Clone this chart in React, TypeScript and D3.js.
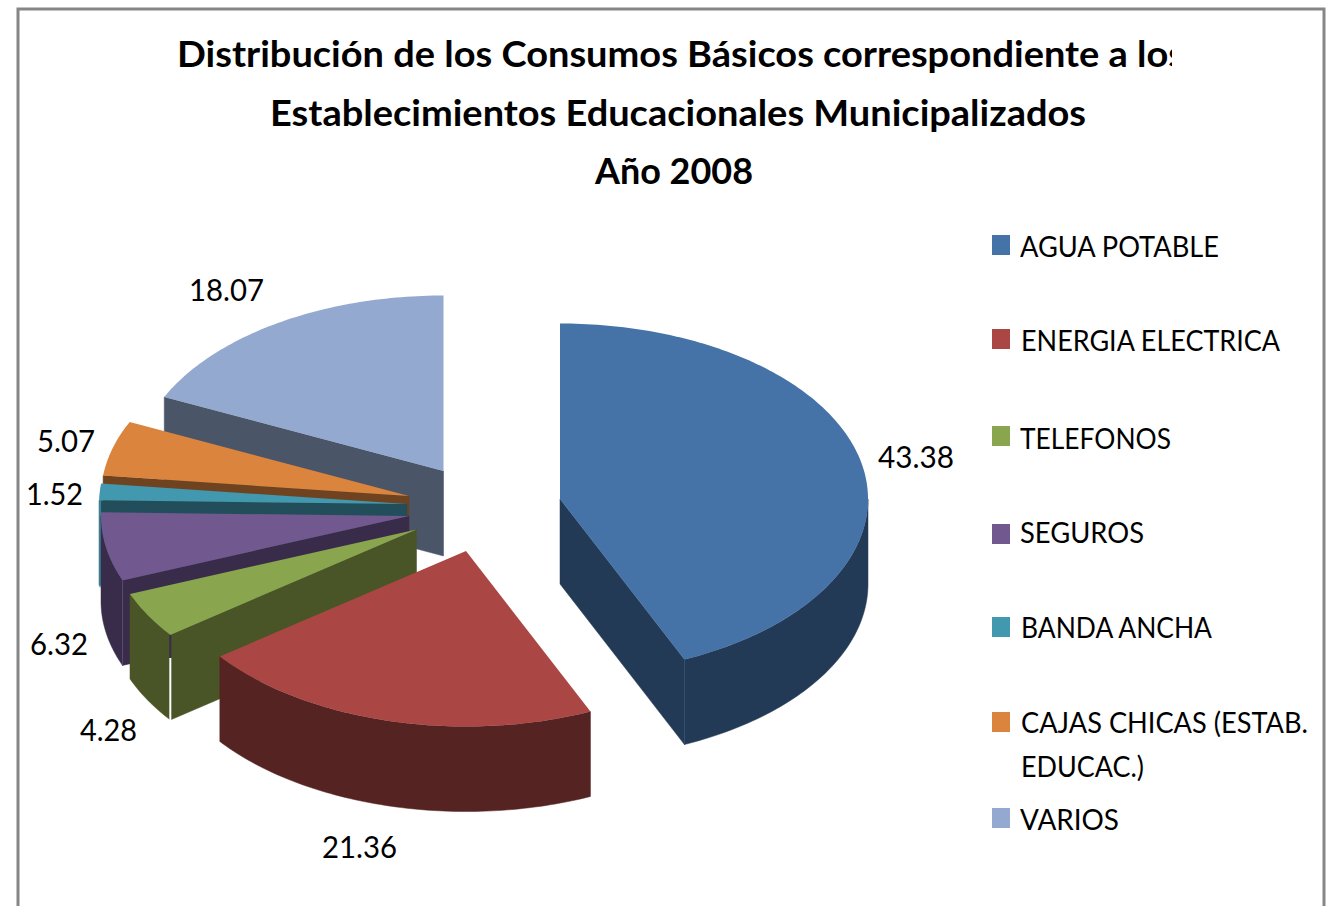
import React from "react";
import * as d3 from "d3";

const categories = ["AGUA POTABLE", "ENERGIA ELECTRICA", "TELEFONOS", "SEGUROS", "BANDA ANCHA", "CAJAS CHICAS (ESTAB. EDUCAC.)", "VARIOS"];
const values = [43.38, 21.36, 4.28, 6.32, 1.52, 5.07, 18.07];
const topColors = ["#4572A7", "#AA4643", "#89A54E", "#71588F", "#4198AF", "#DB843D", "#93A9CF"];
const wallColors = ["#233A56", "#552321", "#4A5527", "#392C4A", "#214E5A", "#6F431F", "#4B5568"];
const titleLines = [
  "Distribución de los Consumos Básicos correspondiente a los",
  "Establecimientos Educacionales Municipalizados",
  "Año 2008",
];

// layout
const W = 1333, H = 906;
const RX = 308, RY = 175.5, DEPTH = 85;
const apexes: [number, number][] = [[560, 499], [466, 551], [416.5, 529.5], [409, 516], [407, 504], [409, 496], [443.5, 471]];
const labelPos: [number, number, number][] = [[878, 468, 76], [322, 858, 75], [80, 741, 57], [30, 655, 58], [26, 505, 57], [37, 452, 58], [189, 301, 75]];
const legendRows = [
  { sw: 235, lines: [["AGUA POTABLE", 1020, 257, 199]] },
  { sw: 329, lines: [["ENERGIA ELECTRICA", 1021, 351, 259]] },
  { sw: 426, lines: [["TELEFONOS", 1020, 449, 151]] },
  { sw: 524, lines: [["SEGUROS", 1020, 543, 124]] },
  { sw: 617, lines: [["BANDA ANCHA", 1021, 638, 191]] },
  { sw: 712, lines: [["CAJAS CHICAS (ESTAB.", 1021, 733, 287], ["EDUCAC.)", 1021, 777, 123]] },
  { sw: 808, lines: [["VARIOS", 1020, 830, 99]] },
];
const FONT = "Lato, 'Open Sans', sans-serif";

const sx = d3.scaleLinear().domain([-1, 1]).range([-RX, RX]);
const sy = d3.scaleLinear().domain([-1, 1]).range([-RY, RY]);
const project = (a: number, ax: number, ay: number, dz = 0): [number, number] => [
  ax + sx(Math.sin(a)),
  ay - sy(Math.cos(a)) + dz,
];
const lineGen = d3.line<[number, number]>();

const arcs = d3.pie<number>().sort(null).startAngle(0).endAngle(2 * Math.PI)(values);
const order = [6, 5, 4, 3, 2, 1, 0];

function arcPoints(a0: number, a1: number, ax: number, ay: number, dz = 0) {
  const n = Math.max(2, Math.ceil(((a1 - a0) * 180) / Math.PI));
  return d3.range(n + 1).map((i) => project(a0 + ((a1 - a0) * i) / n, ax, ay, dz));
}

function Slice({ i }: { i: number }) {
  const { startAngle: a0, endAngle: a1 } = arcs[i];
  const [ax, ay] = apexes[i];
  const top = lineGen([[ax, ay], ...arcPoints(a0, a1, ax, ay)]) + "Z";
  const faces: string[] = [];
  const face = (a: number) => {
    const p = project(a, ax, ay);
    return lineGen([[ax, ay], p, [p[0], p[1] + DEPTH], [ax, ay + DEPTH]]) + "Z";
  };
  if (Math.sin(a1) > 0.01) faces.push(face(a1));
  if (Math.sin(a0) < -0.01) faces.push(face(a0));
  const v0 = Math.max(a0, Math.PI / 2), v1 = Math.min(a1, (3 * Math.PI) / 2);
  let band = "";
  if (v1 > v0) {
    band = lineGen([...arcPoints(v0, v1, ax, ay), ...arcPoints(v0, v1, ax, ay, DEPTH).reverse()]) + "Z";
  }
  return (
    <g>
      {faces.map((d, k) => (
        <path key={k} d={d} fill={wallColors[i]} stroke={wallColors[i]} strokeWidth={0.5} />
      ))}
      {band && <path d={band} fill={wallColors[i]} stroke={wallColors[i]} strokeWidth={0.5} />}
      <path d={top} fill={topColors[i]} />
    </g>
  );
}

export default function App() {
  const fmt = d3.format(".2f");
  const tealStart = project(arcs[4].startAngle, apexes[4][0], apexes[4][1]);
  const greenStart = project(arcs[2].startAngle, apexes[2][0], apexes[2][1]);
  const purpleStart = project(arcs[3].startAngle, apexes[3][0], apexes[3][1]);
  const blueEnd = project(arcs[0].endAngle, apexes[0][0], apexes[0][1]);
  return (
    <svg width={W} height={H} style={{ position: "absolute", left: 0, top: 0, background: "#fff" }} fontFamily={FONT}>
      <defs>
        <clipPath id="titleClip">
          <rect x={100} y={20} width={1072} height={70} />
        </clipPath>
      </defs>
      <rect x={18} y={9} width={1306} height={H + 20} fill="#fff" stroke="#868686" strokeWidth={3} />

      <g fontWeight={700} fontSize={37} fill="#000">
        <text x={177} y={67} textLength={1008} lengthAdjust="spacingAndGlyphs" clipPath="url(#titleClip)">{titleLines[0]}</text>
        <text x={270} y={126} textLength={816} lengthAdjust="spacingAndGlyphs">{titleLines[1]}</text>
        <text x={595} y={184} textLength={158} lengthAdjust="spacingAndGlyphs">{titleLines[2]}</text>
      </g>

      {order.map((i) => (
        <React.Fragment key={i}>
          {i === 3 && (
            <path d={lineGen([[tealStart[0] + 1, tealStart[1]], [tealStart[0] + 1, tealStart[1] + DEPTH + 2]])!} stroke={topColors[4]} strokeOpacity={0.7} strokeWidth={2} fill="none" />
          )}
          <Slice i={i} />
        </React.Fragment>
      ))}

      {/* seams on the walls */}
      <path d={lineGen([purpleStart, [purpleStart[0], purpleStart[1] + DEPTH]])!} stroke="#5a4a70" strokeWidth={1} fill="none" />
      <path d={lineGen([greenStart, [greenStart[0], greenStart[1] + 23]])!} stroke="#392C4A" strokeWidth={2} fill="none" />
      <path d={lineGen([[greenStart[0], greenStart[1] + 23], [greenStart[0], greenStart[1] + DEPTH + 1]])!} stroke="#fff" strokeWidth={2} fill="none" />
      <path d={lineGen([blueEnd, [blueEnd[0], blueEnd[1] + DEPTH]])!} stroke="#34506f" strokeWidth={1} fill="none" />

      <g fontSize={30} fill="#000">
        {values.map((v, i) => (
          <text key={i} x={labelPos[i][0]} y={labelPos[i][1]} textLength={labelPos[i][2]} lengthAdjust="spacingAndGlyphs">{fmt(v)}</text>
        ))}
      </g>

      <g fontSize={29} fill="#000">
        {categories.map((c, i) => (
          <g key={c}>
            <rect x={992} y={legendRows[i].sw} width={18} height={20} fill={topColors[i]} />
            {legendRows[i].lines.map((l, k) => (
              <text key={k} x={l[1] as number} y={l[2] as number} textLength={l[3] as number} lengthAdjust="spacingAndGlyphs">{l[0] as string}</text>
            ))}
          </g>
        ))}
      </g>
    </svg>
  );
}
